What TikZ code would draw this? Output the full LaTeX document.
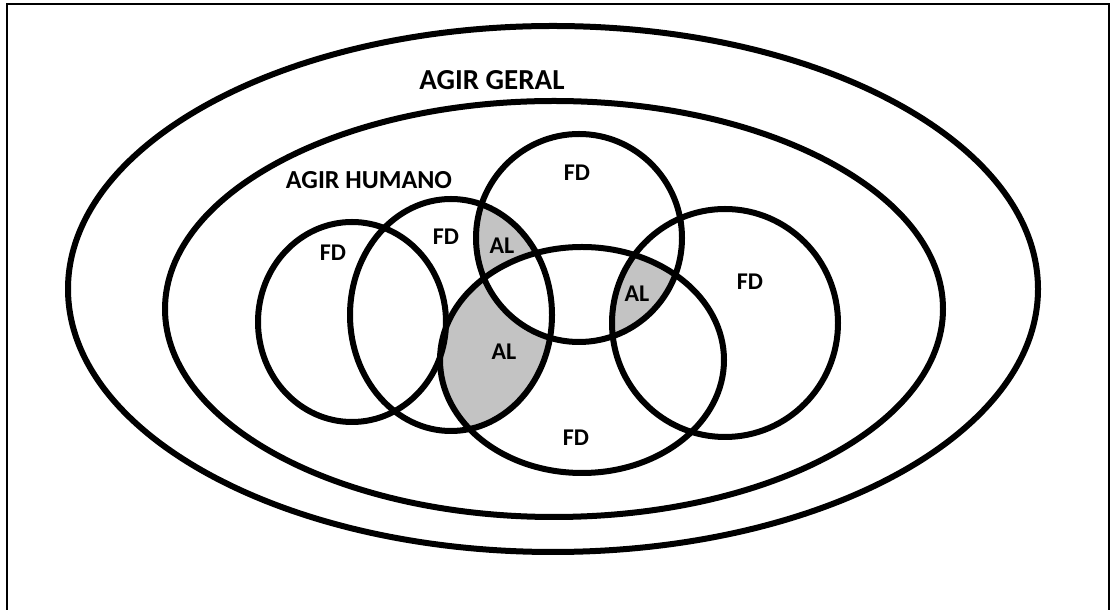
\documentclass[tikz,border=0pt]{standalone}
\usepackage{fontspec}
\setmainfont{Carlito}
\usepackage{tikz}
\usetikzlibrary{positioning}
\definecolor{alGray}{RGB}{195,195,195}
\tikzstyle{ring} = [draw, line width=6pt]
\tikzstyle{frame} = [draw, line width=2pt]
\tikzstyle{tag} = [font=\bfseries\fontsize{24}{28}\selectfont, inner sep=0pt]
\tikzstyle{title} = [font=\bfseries\fontsize{29}{34}\selectfont, inner sep=0pt]
\tikzstyle{subtitle} = [font=\bfseries\fontsize{26}{30}\selectfont, inner sep=0pt]

% the sets
\newcommand{\ovGeral}{(553,321) ellipse [x radius=485pt, y radius=263pt]}
\newcommand{\ovHumano}{(554,301) ellipse [x radius=389pt, y radius=208pt]}
\newcommand{\ovA}{(352,288) ellipse [x radius=94pt, y radius=100pt]}
\newcommand{\ovB}{(451,295) ellipse [x radius=101pt, y radius=116pt]}
\newcommand{\ovC}{(579,372) ellipse [x radius=103pt, y radius=104pt]}
\newcommand{\ovD}{(582,250) ellipse [x radius=142pt, y radius=113pt]}
\newcommand{\ovE}{(725,287) ellipse [x radius=113pt, y radius=114pt]}

\begin{document}
\begin{tikzpicture}[x=1pt, y=1pt]
			\useasboundingbox (0,0) rectangle (1114,610);
			\fill[white] (0,0) rectangle (1114,610);
			
			% shaded parts
			\begin{scope}
				\clip \ovB; \clip \ovC;
				\fill[alGray, even odd rule] (0,0) rectangle (1114,610) \ovD;
			\end{scope}
			\begin{scope}
				\clip \ovB; \clip \ovD;
				\fill[alGray, even odd rule] (0,0) rectangle (1114,610) \ovC;
			\end{scope}
			\begin{scope}
				\clip \ovC; \clip \ovD;
				\fill[alGray] \ovE;
			\end{scope}
			
			\path [ring] \ovGeral;
			\path [ring] \ovHumano;
			\path [ring] \ovA;
			\path [ring] \ovB;
			\path [ring] \ovC;
			\path [ring] \ovD;
			\path [ring] \ovE;
			
			\coordinate (bl) at (7,0);
			\coordinate (tl) at (7,606);
			\coordinate (tr) at (1109,606);
			\coordinate (br) at (1109,0);
			\path [frame] (bl) -- (tl) -- (tr) -- (br);
			
			\node [title] (geral) at (492,530) {AGIR GERAL};
			\node [subtitle] (humano) at (369,430) {AGIR HUMANO};
			\node [tag] (fdA) at (333,357) {FD};
			\node [tag] (fdB) at (446,373) {FD};
			\node [tag] (fdC) at (577,437) {FD};
			\node [tag] (fdD) at (576,172) {FD};
			\node [tag] (fdE) at (750,328) {FD};
			\node [tag] (alBC) at (502,364) {AL};
			\node [tag] (alBD) at (504,258) {AL};
			\node [tag] (alCDE) at (637,316) {AL};
		\end{tikzpicture}
\end{document}
